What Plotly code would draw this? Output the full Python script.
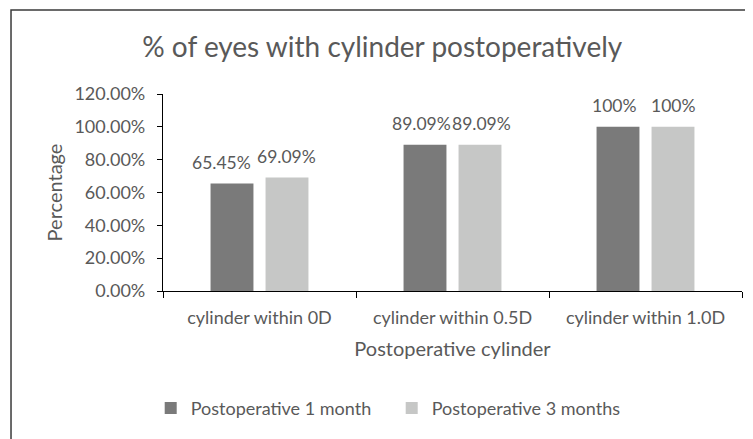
import plotly.graph_objects as go

# chart data
categories = ["cylinder within 0D", "cylinder within 0.5D", "cylinder within 1.0D"]
month1 = [0.6545, 0.8909, 1.0]
month3 = [0.6909, 0.8909, 1.0]
month1_labels = ["65.45%", "89.09%", "100%"]
month3_labels = ["69.09%", "89.09%", "100%"]
y_ticks = [0, 0.2, 0.4, 0.6, 0.8, 1.0, 1.2]

FONT = "Lato"
GREY = "#595959"

fig = go.Figure()

fig.add_trace(go.Bar(
    x=categories, y=month1,
    name="Postoperative 1 month",
    marker=dict(color="#7a7a7a", line_width=0),
))
fig.add_trace(go.Bar(
    x=categories, y=month3,
    name="Postoperative 3 months",
    marker=dict(color="#c6c7c6", line_width=0),
))

# data labels sit a bit higher than plotly's outside text, so use annotations
# (bar centre is +-27.5px from the category centre; small nudges like Excel's)
series = [(month1, month1_labels, -27.5, [-11, -4, -4]),
          (month3, month3_labels, 27.5, [-1, 1, 0])]
for vals, labels, offset, nudges in series:
    for cat, v, lab, nd in zip(categories, vals, labels, nudges):
        fig.add_annotation(
            x=cat, y=v, text=lab, showarrow=False,
            xshift=offset + nd, yshift=21, yanchor="middle",
            font=dict(size=17.5, color=GREY, family=FONT),
        )

# outer chart border (Excel style, only top/left visible in the crop)
fig.add_shape(
    type="rect", xref="paper", yref="paper",
    x0=-0.2625, x1=1.2, y0=-1.0, y1=1.426,
    line=dict(color="#3a3a3a", width=1.5),
    fillcolor="rgba(0,0,0,0)",
)

# page body adds an 8px offset, so margins are shifted by that much
fig.update_layout(
    width=753, height=439,
    margin=dict(l=155, r=19, t=86, b=156),
    paper_bgcolor="white", plot_bgcolor="white",
    barmode="group", bargap=0.43, bargroupgap=0.22,
    font=dict(family=FONT, color=GREY, size=18),
    title=dict(
        text="% of eyes with cylinder postoperatively",
        x=0.497, xref="container", xanchor="center",
        y=0.911, yref="container", yanchor="middle",
        font=dict(size=28, color=GREY, family=FONT),
    ),
    legend=dict(
        orientation="h", x=0.395, xanchor="center",
        y=-0.595, yanchor="middle",
        font=dict(size=18, color=GREY, family=FONT),
        itemsizing="constant", traceorder="normal",
        entrywidth=196,
    ),
    showlegend=True,
)

fig.update_yaxes(
    range=[0, 1.2], tickvals=y_ticks, tickformat=".2%",
    automargin=False,
    showgrid=False, zeroline=False,
    showline=True, linecolor="#000000", linewidth=1.2,
    ticks="outside", ticklen=5, tickcolor="#000000",
    ticklabelstandoff=8,
    tickfont=dict(size=18, color=GREY),
    title=dict(text="Percentage", font=dict(size=20, color=GREY), standoff=6),
)
fig.update_xaxes(
    automargin=False,
    showgrid=False,
    showline=True, linecolor="#000000", linewidth=1.2,
    ticks="outside", ticklen=6, tickcolor="#000000", tickson="boundaries",
    ticklabelstandoff=10,
    tickfont=dict(size=18, color=GREY),
    title=dict(text="Postoperative cylinder", font=dict(size=20, color=GREY), standoff=15),
)

fig.write_html("out.html")
